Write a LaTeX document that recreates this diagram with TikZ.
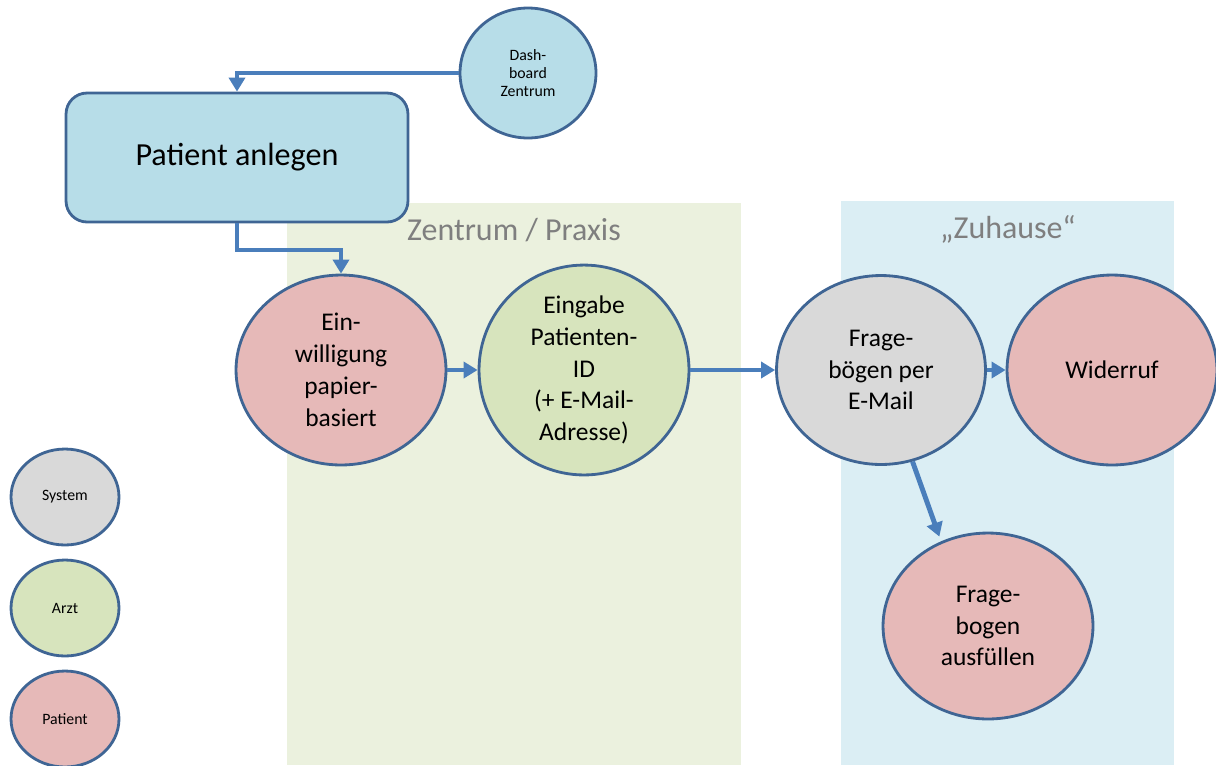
\documentclass[tikz,border=0pt]{standalone}
\usepackage{fontspec}
\setmainfont{Carlito}
\usetikzlibrary{shapes.geometric,arrows.meta}
\definecolor{strokeblue}{HTML}{3F6594}
\definecolor{arrowblue}{HTML}{4A7EBB}
\definecolor{fillblue}{HTML}{B7DDE8}
\definecolor{fillpink}{HTML}{E6B9B8}
\definecolor{fillgreen}{HTML}{D7E4BD}
\definecolor{fillgray}{HTML}{D9D9D9}
\definecolor{bandgreen}{HTML}{EBF1DE}
\definecolor{bandblue}{HTML}{DBEEF4}
\definecolor{labelgray}{HTML}{7F7F7F}
\tikzset{
  bubble/.style={ellipse, draw=strokeblue, line width=1.6pt, inner sep=0pt, align=center,
    minimum width=4.2cm, minimum height=3.8cm, font=\fontsize{14.5}{18.1}\selectfont},
  small/.style={ellipse, draw=strokeblue, line width=1.6pt, inner sep=0pt, align=center,
    minimum width=2.16cm, minimum height=1.92cm, font=\fontsize{9}{10.5}\selectfont},
  arr/.style={draw=arrowblue, line width=2.8pt, -{Triangle[length=0.28cm,width=0.32cm]}},
  bandlabel/.style={text=labelgray, font=\fontsize{18.2}{21}\selectfont}
}
\begin{document}
\begin{tikzpicture}[x=0.02cm,y=-0.02cm]
\useasboundingbox (0,0) rectangle (1216,765);
% bands
\fill[bandgreen] (287,203) rectangle (741,765);
\fill[bandblue] (841,201) rectangle (1174,765);
\node[bandlabel] (lz) at (514,230) {Zentrum / Praxis};
\node[bandlabel] (lh) at (1008,229) {„Zuhause“};
% top
\node[ellipse, draw=strokeblue, line width=1.6pt, fill=fillblue, inner sep=0pt, align=center,
  minimum width=2.72cm, minimum height=2.6cm, font=\fontsize{9}{10}\selectfont] (dsh) at (528,73) {Dash-\\board\\Zentrum};
\node[draw=strokeblue, line width=1.6pt, fill=fillblue, rounded corners=0.42cm,
  minimum width=6.84cm, minimum height=2.58cm, inner sep=0pt,
  font=\fontsize{18.3}{21}\selectfont] (anl) at (237,157.5) {Patient anlegen};
% main bubbles
\node[bubble, fill=fillpink] (ein) at (341,370) {Ein-\\willigung\\papier-\\basiert};
\node[bubble, fill=fillgreen] (eing) at (584,370) {Eingabe\\Patienten-\\ID\\(+ E-Mail-\\Adresse)};
\node[bubble, fill=fillgray, minimum width=4.18cm, minimum height=3.78cm] (fb) at (881,370) {Frage-\\bögen per\\E-Mail};
\node[bubble, fill=fillpink] (wid) at (1112,370) {Widerruf};
\node[bubble, fill=fillpink, minimum height=3.72cm] (fa) at (988,626) {Frage-\\bogen\\ausfüllen};
% legend
\node[small, fill=fillgray] (lsys) at (65,497) {System};
\node[small, fill=fillgreen] (larz) at (65,608) {Arzt};
\node[small, fill=fillpink] (lpat) at (65,719) {Patient};
% connectors
\draw[arr] (dsh.west) -| (anl.north);
\coordinate (bend) at (341,250);
\draw[arr] (anl.south) |- (bend) -- (ein.north);
\draw[arr] (ein.east) -- (eing.west);
\draw[arr] (eing.east) -- (fb.west);
\draw[arr] (fb.east) -- (wid.west);
\draw[arr, shorten >=0.1cm] (fb.-71) -- (fa.119);
\end{tikzpicture}
\end{document}
